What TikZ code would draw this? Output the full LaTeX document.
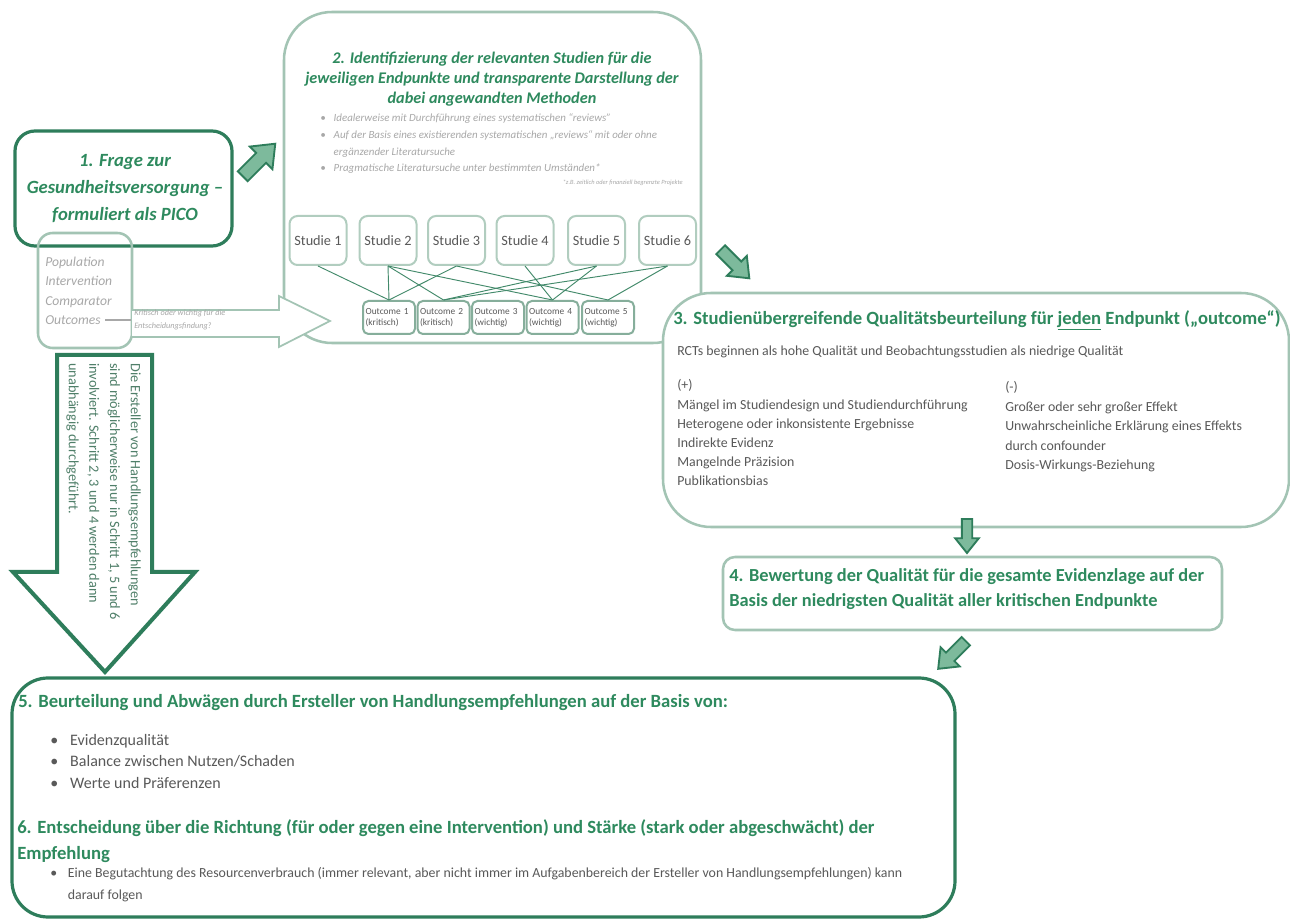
\documentclass[tikz,border=0pt]{standalone}
\usepackage{fontspec}
\setmainfont{Carlito}
\definecolor{dg}{HTML}{2E7D5B}
\definecolor{tg}{HTML}{2E8A5E}
\definecolor{lb}{HTML}{A3C4B4}
\definecolor{sb}{HTML}{B1CDBF}
\definecolor{mb}{HTML}{86AE9B}
\definecolor{lgray}{HTML}{A8A8A8}
\definecolor{bodyg}{HTML}{595959}
\definecolor{vtxt}{HTML}{4F7F69}
\definecolor{afill}{HTML}{7DBA9C}
\tikzset{
  box/.style={draw=lb, line width=1.9pt, inner sep=0pt},
  darkbox/.style={draw=dg, line width=2.4pt, inner sep=0pt},
  study/.style={draw=sb, line width=1.5pt, rounded corners=6pt, minimum width=42.75pt,
    minimum height=36.75pt, inner sep=0pt, text=bodyg, font=\fontsize{10.7}{12}\selectfont},
  outc/.style={draw=mb, line width=1.5pt, rounded corners=4pt, minimum width=39pt,
    minimum height=24.75pt, inner xsep=2pt, inner ysep=0pt, text width=35pt, align=left,
    text=bodyg, font=\fontsize{7}{8.25}\selectfont},
  conn/.style={draw=dg!90, line width=0.7pt},
  txt/.style={inner sep=0pt},
  barrow/.pic={\draw[draw=dg, fill=afill, line width=1.4pt, line join=miter]
    (-23,-7) -- (3,-7) -- (3,-16) -- (23,0) -- (3,16) -- (3,7) -- (-23,7) -- cycle;}
}
\begin{document}
\begin{tikzpicture}[x=0.75pt,y=-0.75pt]
\useasboundingbox (0,0) rectangle (1290,919);
\fill[white] (0,0) rectangle (1290,919);

% Box 2
\node[box, rounded corners=36pt, minimum width=312.75pt, minimum height=248.25pt] (b2) at (492.5,177.5) {};
\node[txt, align=center, text=tg, font=\fontsize{12.2}{15}\selectfont\bfseries\itshape] (t2) at (492,79)
  {2. Identifizierung der relevanten Studien für die\\jeweiligen Endpunkte und transparente Darstellung der\\dabei angewandten Methoden};
\node[txt, anchor=north west, text=lgray, font=\fontsize{8.2}{12.6}\selectfont\itshape] (l2) at (320,109.5)
  {\begin{tabular}{@{}l@{\hspace{6pt}}l@{}}
  \textbullet & Idealerweise mit Durchführung eines systematischen “reviews” \\
  \textbullet & Auf der Basis eines existierenden systematischen „reviews“ mit oder ohne \\
   & ergänzender Literatursuche \\
  \textbullet & Pragmatische Literatursuche unter bestimmten Umständen*
  \end{tabular}};
\node[txt, anchor=east, text=lgray, font=\fontsize{4.8}{5.5}\selectfont\itshape] (fn) at (683,183)
  {*z.B. zeitlich oder finanziell begrenzte Projekte};

% Studies
\node[study] (s1) at (318,240.5) {Studie 1};
\node[study] (s2) at (388,240.5) {Studie 2};
\node[study] (s3) at (456.5,240.5) {Studie 3};
\node[study] (s4) at (525,240.5) {Studie 4};
\node[study] (s5) at (596.5,240.5) {Studie 5};
\node[study] (s6) at (667.5,240.5) {Studie 6};
% Outcomes
\node[outc] (o1) at (389,317.5) {Outcome 1\\(kritisch)};
\node[outc] (o2) at (443.5,317.5) {Outcome 2\\(kritisch)};
\node[outc] (o3) at (498,317.5) {Outcome 3\\(wichtig)};
\node[outc] (o4) at (552.5,317.5) {Outcome 4\\(wichtig)};
\node[outc] (o5) at (608,317.5) {Outcome 5\\(wichtig)};
% Connectors
\draw[conn] (s1.south) -- (o1.north);
\draw[conn] (s2.south) -- (o1.north);
\draw[conn] (s2.south) -- (o2.north);
\draw[conn] (s2.south) -- (o4.north);
\draw[conn] (s3.south) -- (o1.north);
\draw[conn] (s3.south) -- (o5.north);
\draw[conn] (s4.south) -- (o4.north);
\draw[conn] (s5.south) -- (o4.north);
\draw[conn] (s5.south) -- (o2.north);
\draw[conn] (s6.south) -- (o5.north);
\draw[conn] (s6.south) -- (o2.north);

% Box 3
\node[box, fill=white, rounded corners=36pt, minimum width=469.5pt, minimum height=175.5pt] (b3) at (976,410) {};
\node[txt, anchor=west, text=tg, font=\fontsize{14}{16}\selectfont\bfseries] (t3) at (673,320)
  {3. Studienübergreifende Qualitätsbeurteilung für \underline{jeden} Endpunkt („outcome“)};
\node[txt, anchor=west, text=bodyg, font=\fontsize{10.4}{12}\selectfont] (r3) at (677,352)
  {RCTs beginnen als hohe Qualität und Beobachtungsstudien als niedrige Qualität};
\node[txt, anchor=north west, align=left, text=bodyg, font=\fontsize{10.4}{14.4}\selectfont] (p3) at (677,379.5)
  {(+)\\Mängel im Studiendesign und Studiendurchführung\\Heterogene oder inkonsistente Ergebnisse\\Indirekte Evidenz\\Mangelnde Präzision\\Publikationsbias};
\node[txt, anchor=north west, align=left, text=bodyg, font=\fontsize{10.4}{14.6}\selectfont] (m3) at (1005,381.5)
  {(-)\\Großer oder sehr großer Effekt\\Unwahrscheinliche Erklärung eines Effekts\\durch confounder\\Dosis-Wirkungs-Beziehung};

% Box 4
\node[box, rounded corners=9pt, minimum width=374.25pt, minimum height=54.75pt] (b4) at (972.5,593.5) {};
\node[txt, anchor=north west, align=left, text=tg, font=\fontsize{13.8}{18.75}\selectfont\bfseries] (t4) at (729,568.5)
  {4. Bewertung der Qualität für die gesamte Evidenzlage auf der\\Basis der niedrigsten Qualität aller kritischen Endpunkte};

% Box 5
\node[darkbox, rounded corners=27pt, minimum width=707.25pt, minimum height=179.25pt] (b5) at (483.5,797.5) {};
\node[txt, anchor=west, text=tg, font=\fontsize{14}{16}\selectfont\bfseries] (t5) at (18,703)
  {5. Beurteilung und Abwägen durch Ersteller von Handlungsempfehlungen auf der Basis von:};
\node[txt, anchor=north west, text=bodyg, font=\fontsize{12}{16.1}\selectfont] (l5) at (50,730)
  {\begin{tabular}{@{}l@{\hspace{9pt}}l@{}}
  \textbullet & Evidenzqualität\\
  \textbullet & Balance zwischen Nutzen/Schaden\\
  \textbullet & Werte und Präferenzen
  \end{tabular}};
\node[txt, anchor=north west, align=left, text=tg, font=\fontsize{14}{19.5}\selectfont\bfseries] (t6) at (17,819.5)
  {6. Entscheidung über die Richtung (für oder gegen eine Intervention) und Stärke (stark oder abgeschwächt) der\\Empfehlung};
\node[txt, anchor=north west, text=bodyg, font=\fontsize{10.4}{16.5}\selectfont] (l6) at (50,861.5)
  {\begin{tabular}{@{}l@{\hspace{8pt}}l@{}}
  \textbullet & Eine Begutachtung des Resourcenverbrauch (immer relevant, aber nicht immer im Aufgabenbereich der Ersteller von Handlungsempfehlungen) kann\\
   & darauf folgen
  \end{tabular}};

% Big down arrow
\draw[draw=dg, line width=3pt, fill=white, line join=miter]
  (57,355) -- (152,355) -- (152,572) -- (195,572) -- (105,672) -- (13,572) -- (57,572) -- cycle;
\node[txt, rotate=-90, anchor=north west, align=left, text=vtxt, font=\fontsize{10.7}{15.5}\selectfont] (vt) at (141,363)
  {Die Ersteller von Handlungsempfehlungen\\sind möglicherweise nur in Schritt 1, 5 und 6\\involviert. Schritt 2, 3 und 4 werden dann\\unabhängig durchgeführt.};

% Box 1 and PICO
\node[darkbox, rounded corners=15pt, minimum width=162.75pt, minimum height=86.25pt] (b1) at (123.5,188.5) {};
\node[txt, align=center, text=tg, font=\fontsize{14}{20.25}\selectfont\bfseries\itshape] (t1) at (125,189)
  {1. Frage zur\\Gesundheitsversorgung –\\formuliert als PICO};
\node[box, rounded corners=11pt, minimum width=70.5pt, minimum height=86.25pt] (pico) at (85,290.5) {};
\node[txt, anchor=north west, align=left, text=lgray, font=\fontsize{10.2}{14.6}\selectfont\itshape] (pt) at (45,256.5)
  {Population\\Intervention\\Comparator\\Outcomes};
% hollow arrow PICO -> box 2
\draw[draw=lb, line width=1.3pt, fill=white, line join=miter]
  (132,310) -- (279,310) -- (279,296) -- (330,321) -- (279,347) -- (279,337) -- (132,337);
\coordinate (dashA) at (105,320);
\coordinate (dashB) at (131,320);
\draw[lgray, line width=0.8pt] (dashA) -- (dashB);
\node[txt, anchor=north west, align=left, text=lgray, font=\fontsize{6.2}{9.75}\selectfont\itshape] (at) at (134,309.5)
  {Kritisch oder wichtig für die\\Entscheidungsfindung?};

% small block arrows
\pic[rotate=45] at (259,160) {barrow};
\pic[rotate=-45, scale=0.88] at (735,264) {barrow};
\pic[rotate=-90, scale=0.74] at (967,536) {barrow};
\pic[rotate=-135, scale=0.85] at (952,655) {barrow};
\end{tikzpicture}
\end{document}
